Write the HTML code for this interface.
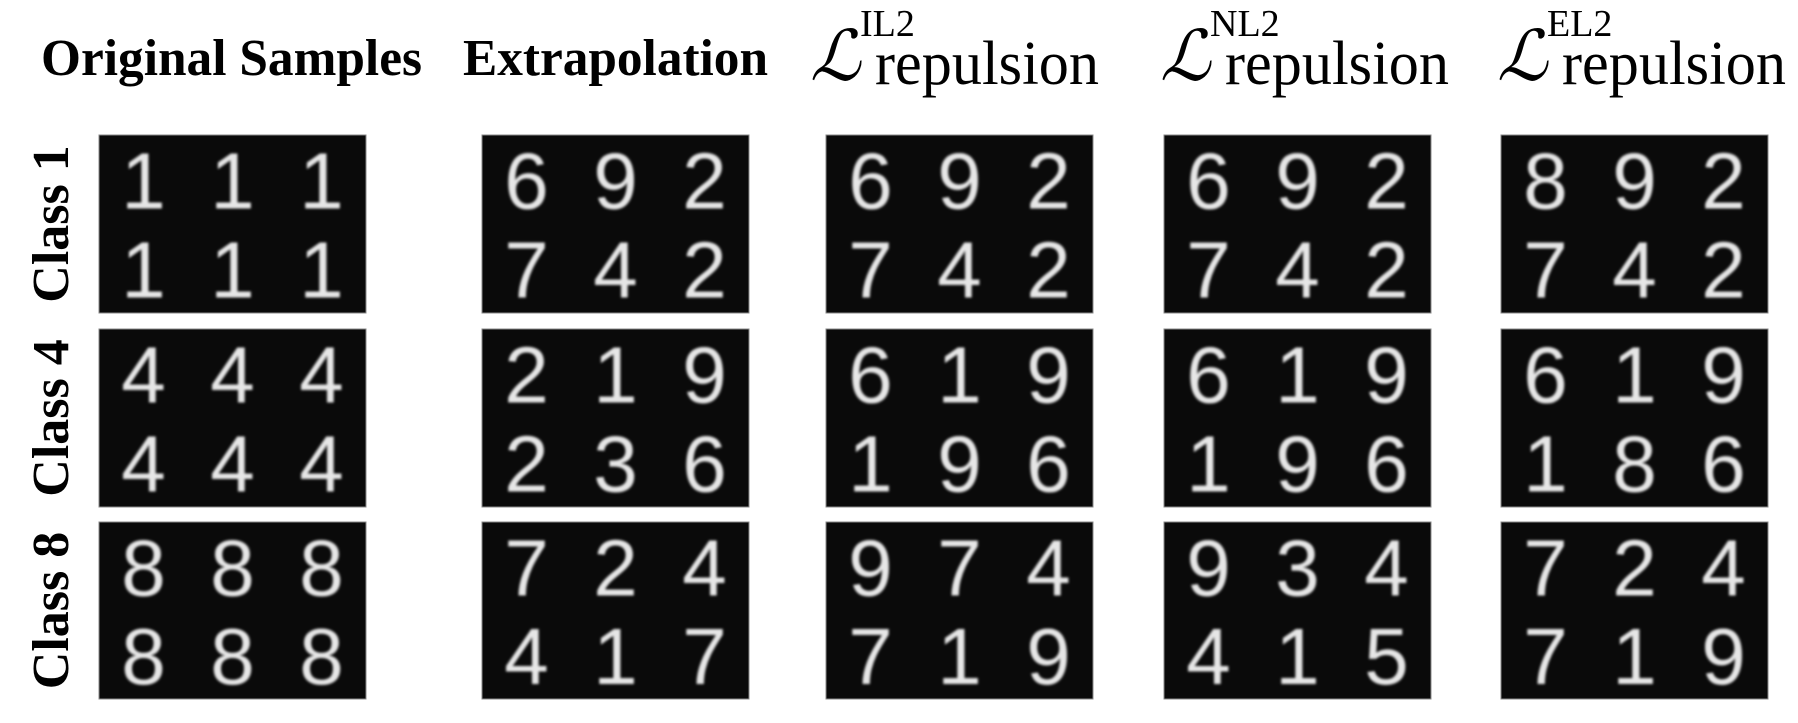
<!DOCTYPE html>
<html><head><meta charset="utf-8"><style>
html,body{margin:0;padding:0;background:#fff;}
svg{display:block;}
.hd{font-family:"Liberation Serif",serif;font-weight:bold;font-size:52px;fill:#000;}
.lt{font-family:"Liberation Serif",serif;fill:#000;}
.dg{font-family:"Liberation Sans",sans-serif;font-size:80px;fill:#e6e6e6;text-anchor:middle;}
</style></head><body>
<svg id="fig" width="1798" height="723" viewBox="0 0 1798 723" xmlns="http://www.w3.org/2000/svg">
<defs><filter id="bl"><feGaussianBlur stdDeviation="1.3"/></filter></defs>
<text class="hd" x="41" y="75" textLength="381" lengthAdjust="spacingAndGlyphs">Original Samples</text>
<text class="hd" x="463" y="75" textLength="305" lengthAdjust="spacingAndGlyphs">Extrapolation</text>
<g id="lheads"></g>
<g id="rowlabels"></g>
<g id="panels"></g>
</svg>
<script>
const methods = ["Original Samples","Extrapolation","IL2","NL2","EL2"];
const classes = ["Class 1","Class 4","Class 8"];
const digits = [
 [["111111"],["692742"],["692742"],["692742"],["892742"]],
 [["444444"],["219236"],["619196"],["619196"],["619186"]],
 [["888888"],["724417"],["974719"],["934415"],["724719"]]
];
const NS="http://www.w3.org/2000/svg";
const colX=[99,482,826,1164,1501];
const colW=267;
const rowY=[135,329,522];
const rowH=[178,178,177];
const lh=document.getElementById('lheads');
const lx=[810,1160,1497];
["IL2","NL2","EL2"].forEach((s,i)=>{
  const g=document.createElementNS(NS,'g');
  
  
  const L=document.createElementNS(NS,'text');
  L.setAttribute('class','lt');L.setAttribute('x',lx[i]);L.setAttribute('y',80);
  L.setAttribute('font-size','70');L.setAttribute('font-style','italic');L.textContent='ℒ';
  const sup=document.createElementNS(NS,'text');
  sup.setAttribute('class','lt');sup.setAttribute('x',lx[i]+50);sup.setAttribute('y',36);
  sup.setAttribute('font-size','38');sup.textContent=s;
  const sub=document.createElementNS(NS,'text');
  sub.setAttribute('class','lt');sub.setAttribute('x',lx[i]+65);sub.setAttribute('y',84);
  sub.setAttribute('font-size','62');sub.setAttribute('textLength','224');sub.setAttribute('lengthAdjust','spacingAndGlyphs');
  sub.textContent='repulsion';
  g.appendChild(L);g.appendChild(sup);g.appendChild(sub);lh.appendChild(g);
});
const rl=document.getElementById('rowlabels');
classes.forEach((c,r)=>{
  const t=document.createElementNS(NS,'text');
  
  
  const cy=rowY[r]+rowH[r]/2;
  t.setAttribute('class','hd');
  t.setAttribute('text-anchor','middle');
  t.setAttribute('transform','translate(68,'+cy+') rotate(-90)');
  t.textContent=c;
  rl.appendChild(t);
});
const pn=document.getElementById('panels');
for(let r=0;r<3;r++){for(let m=0;m<5;m++){
  const g=document.createElementNS(NS,'g');
  
  
  const rc=document.createElementNS(NS,'rect');
  rc.setAttribute('x',colX[m]);rc.setAttribute('y',rowY[r]);rc.setAttribute('width',colW);rc.setAttribute('height',rowH[r]);
  rc.setAttribute('fill','#0a0a0a');rc.setAttribute('stroke','#888');rc.setAttribute('stroke-width','1');
  g.appendChild(rc);
  const s=digits[r][m][0];
  for(let k=0;k<6;k++){
    const i=k%3,j=Math.floor(k/3);
    const t=document.createElementNS(NS,'text');
    
    
    t.setAttribute('class','dg');
    t.setAttribute('filter','url(#bl)');
    t.setAttribute('x',colX[m]+colW*(i+0.5)/3);
    t.setAttribute('y',rowY[r]+rowH[r]*(j+0.5)/2+29);
    t.textContent=s[k];
    g.appendChild(t);
  }
  pn.appendChild(g);
}}
</script>
</body></html>
